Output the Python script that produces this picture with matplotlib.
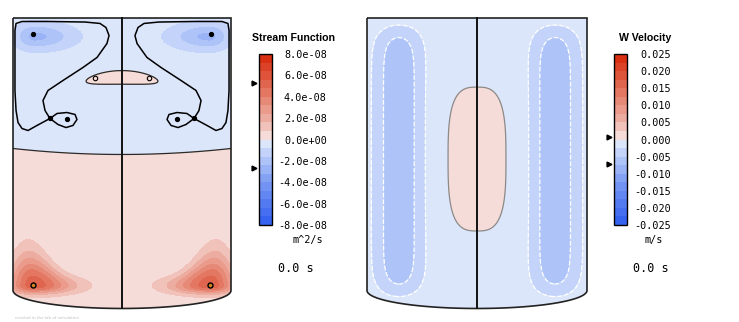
import numpy as np
import matplotlib
matplotlib.use("Agg")
import matplotlib.pyplot as plt
import matplotlib.transforms as mtransforms
from matplotlib.colors import LinearSegmentedColormap
from matplotlib.path import Path
from matplotlib.patches import PathPatch

# colour scale
cmap_pos = [0.0, 0.25, 0.40, 0.475, 0.525, 0.60, 0.75, 1.0]
cmap_col = ['#2f5cf0', '#7a9af3', '#b8cbf8', '#dce6fa', '#f6dcd8', '#efb6ac', '#e4806c', '#d8280a']

# stream function colour bar
psi_ticks = [8e-8, 6e-8, 4e-8, 2e-8, 0.0, -2e-8, -4e-8, -6e-8, -8e-8]
psi_marks = [5.3e-8, -2.7e-8]          # max / min arrows
# W velocity colour bar
w_ticks = [0.025, 0.020, 0.015, 0.010, 0.005, 0.0, -0.005, -0.010, -0.015, -0.020, -0.025]
w_marks = [0.0007, -0.0072]
n_bands = 20

# tank: radius 1, height 2.5, bottom drawn as half ellipse
tank_h = 2.5
tank_sag = 0.165

# stream function pieces (left half, mirrored to the right)
psi_base = 0.4e-8
psi_split = [1.248, 0.055]             # zero line z = a + b r^2
top_vortex_rz = [-0.80, 2.33]
top_vortex_amp = -2.25e-8
top_vortex_w = [0.18, 0.34, 0.12]      # r left, r right, z
bot_vortex_rz = [-0.817, 0.046]
bot_vortex_amp = 4.9e-8
bot_vortex_w = [0.20, 0.34, 0.07]      # r left, r right, z down
bot_vortex_up = [0.07, 0.20, -0.88, 0.26]
lens_z = [1.955, 0.035]
lens_amp = 0.8e-8
lens_w = [0.396, 0.075]

# separatrix (left side)
sep_r = [-0.661, -0.706, -0.725, -0.679, -0.541, -0.358, -0.229, -0.138, -0.119, -0.147,
         -0.202, -0.339, -0.661, -0.917, -0.972, -0.982, -0.982, -0.982, -0.972, -0.954,
         -0.917, -0.862, -0.780, -0.661, -0.596, -0.505, -0.431, -0.413, -0.450, -0.514,
         -0.587, -0.661]
sep_z = [1.578, 1.651, 1.743, 1.835, 1.927, 2.046, 2.138, 2.266, 2.339, 2.413,
         2.450, 2.463, 2.468, 2.468, 2.450, 2.385, 2.110, 1.835, 1.651, 1.541,
         1.486, 1.468, 1.514, 1.578, 1.624, 1.633, 1.615, 1.569, 1.514, 1.495,
         1.523, 1.578]
dot_r = [-0.817, -0.505, -0.661]
dot_z = [2.349, 1.569, 1.578]
ring_r = [-0.248, 0.248]
ring_z = [1.945, 1.945]
hot_r = [-0.817, 0.81]
hot_z = [0.046, 0.046]

# W velocity pieces
w_base = -0.0012
col_r = -0.71
col_amp = -0.0062
col_w = [0.2, 1.19, 1.2, 12]           # r width, z centre, z half, power
cap_amp = 0.0019
cap_w = [0.35, 1.206, 0.855, 3]

W, H = 739, 322
fig = plt.figure(figsize=(W / 100, H / 100), dpi=100)
cmap = LinearSegmentedColormap.from_list('sw', list(zip(cmap_pos, cmap_col)))

r = np.linspace(-1, 1, 401)
z = np.linspace(-0.2, tank_h, 541)
R, Z = np.meshgrid(r, z)
Rm = -np.abs(R)

# stream function field
psi = -psi_base * np.tanh((Z - (psi_split[0] + psi_split[1] * R**2)) / 0.03)
sr = np.where(Rm < top_vortex_rz[0], top_vortex_w[0], top_vortex_w[1])
psi += top_vortex_amp * np.exp(-((Rm - top_vortex_rz[0]) / sr)**2
                               - ((Z - top_vortex_rz[1]) / top_vortex_w[2])**2)
sr = np.where(Rm < bot_vortex_rz[0], bot_vortex_w[0], bot_vortex_w[1])
szu = bot_vortex_up[0] + bot_vortex_up[1] * np.exp(-((Rm - bot_vortex_up[2]) / bot_vortex_up[3])**2)
sz = np.where(Z < bot_vortex_rz[1], bot_vortex_w[2], szu)
psi += bot_vortex_amp * np.exp(-((Rm - bot_vortex_rz[0]) / sr)**2
                               - ((Z - bot_vortex_rz[1]) / sz)**2)
lc = lens_z[0] - lens_z[1] * (R / 0.33)**2
psi += lens_amp * np.exp(-(R / lens_w[0])**2 - ((Z - lc) / lens_w[1])**2)

# W velocity field
wv = w_base + col_amp * np.exp(-((Rm - col_r) / col_w[0])**2
                               - np.abs((Z - col_w[1]) / col_w[2])**col_w[3])
wv += cap_amp * np.exp(-(np.abs(R / cap_w[0])**cap_w[3] + np.abs((Z - cap_w[1]) / cap_w[2])**cap_w[3]))


def panel(cx, top, ppu_x, ppu_z=109):
    xl, zl = (-1.03, 1.03), (-0.22, tank_h + 0.03)
    left, right = cx + xl[0] * ppu_x, cx + xl[1] * ppu_x
    ytop = top - (zl[1] - tank_h) * ppu_z
    ybot = top + (tank_h - zl[0]) * ppu_z
    ax = fig.add_axes([left / W, 1 - ybot / H, (right - left) / W, (ybot - ytop) / H])
    ax.set_xlim(xl)
    ax.set_ylim(zl)
    ax.axis('off')
    t = np.linspace(0, np.pi, 60)
    verts = [(-1, tank_h), (1, tank_h)] + list(zip(np.cos(t), -tank_sag * np.sin(t))) + [(-1, tank_h)]
    tank = Path(verts)
    clip = PathPatch(tank, transform=ax.transData, facecolor='none', edgecolor='none')
    ax.add_patch(clip)
    ax.add_patch(PathPatch(tank, facecolor='none', edgecolor='#222222', lw=1.2, zorder=6))
    ax.plot([0, 0], [tank_h, -tank_sag], color='#111111', lw=1.4, zorder=6)
    return ax, clip


def colorbar(cs, x0, ticks, fmt, marks, pad):
    cax = fig.add_axes([x0 / W, (H - 225) / H, 13 / W, 171 / H])
    cb = fig.colorbar(cs, cax=cax, ticks=ticks)
    cb.ax.set_yticklabels([fmt.format(v + 0.0) for v in ticks], family='DejaVu Sans Mono',
                          fontsize=7.3, ha='right')
    cb.ax.tick_params(length=0, pad=pad)
    cb.outline.set_linewidth(1.0)
    tr = mtransforms.blended_transform_factory(cax.transAxes, cax.transData)
    cax.plot([-0.38] * len(marks), marks, ls='none', marker='>', ms=3.5, color='black',
             transform=tr, clip_on=False)


# left panel: stream function
ax, clip = panel(122, 18, 109)
lev = np.linspace(psi_ticks[-1], psi_ticks[0], n_bands + 1)
cs = ax.contourf(R, Z, psi, levels=lev, cmap=cmap, extend='neither')
cs.set_clip_path(clip)
c0 = ax.contour(R, Z, psi, levels=[0.0], colors='#2a2a2a', linewidths=0.9)
c0.set_clip_path(clip)
ax.plot(sep_r, sep_z, color='black', lw=1.1, zorder=5)
ax.plot(-np.array(sep_r), sep_z, color='black', lw=1.1, zorder=5)
ax.plot(dot_r + [-v for v in dot_r], dot_z + dot_z, 'o', color='black', ms=2.8, zorder=7)
ax.plot(ring_r, ring_z, 'o', mfc='#f6dcd8', mec='black', mew=0.8, ms=3.2, zorder=7)
ax.plot(hot_r, hot_z, 'o', mfc='#d08020', mec='black', mew=1.0, ms=3.6, zorder=7)
colorbar(cs, 259, psi_ticks, '{:.1e}', psi_marks, 39.5)

# right panel: W velocity
ax2, clip2 = panel(477, 18, 110)
lev2 = np.linspace(w_ticks[-1], w_ticks[0], n_bands + 1)
cs2 = ax2.contourf(R, Z, wv, levels=lev2, cmap=cmap)
cs2.set_clip_path(clip2)
cl = ax2.contour(R, Z, wv, levels=[-0.005, -0.0025], colors='white', linewidths=0.9)
cl.set_clip_path(clip2)
cz = ax2.contour(R, Z, wv, levels=[0.0], colors='#8a8a8a', linewidths=0.9)
cz.set_clip_path(clip2)
colorbar(cs2, 614, w_ticks, '{:.3f}', w_marks, 31.5)

# titles and labels
fig.text(294 / W, 1 - 38 / H, 'Stream Function', ha='center', va='center',
         family='Liberation Sans', weight='bold', fontsize=7.6)
fig.text(645 / W, 1 - 38 / H, 'W Velocity', ha='center', va='center',
         family='Liberation Sans', weight='bold', fontsize=7.6)
fig.text(308 / W, 1 - 240 / H, 'm^2/s', ha='center', va='center', family='DejaVu Sans Mono', fontsize=7.3)
fig.text(654 / W, 1 - 240 / H, 'm/s', ha='center', va='center', family='DejaVu Sans Mono', fontsize=7.3)
fig.text(296 / W, 1 - 268 / H, '0.0 s', ha='center', va='center', family='DejaVu Sans Mono', fontsize=8.5)
fig.text(651 / W, 1 - 268 / H, '0.0 s', ha='center', va='center', family='DejaVu Sans Mono', fontsize=8.5)
fig.text(15 / W, 1 - 318 / H, 'created in the lab of simulation', ha='left', va='center',
         fontsize=3, color='#c0c0c0')

fig.savefig('out.png', dpi=100, facecolor='white')
